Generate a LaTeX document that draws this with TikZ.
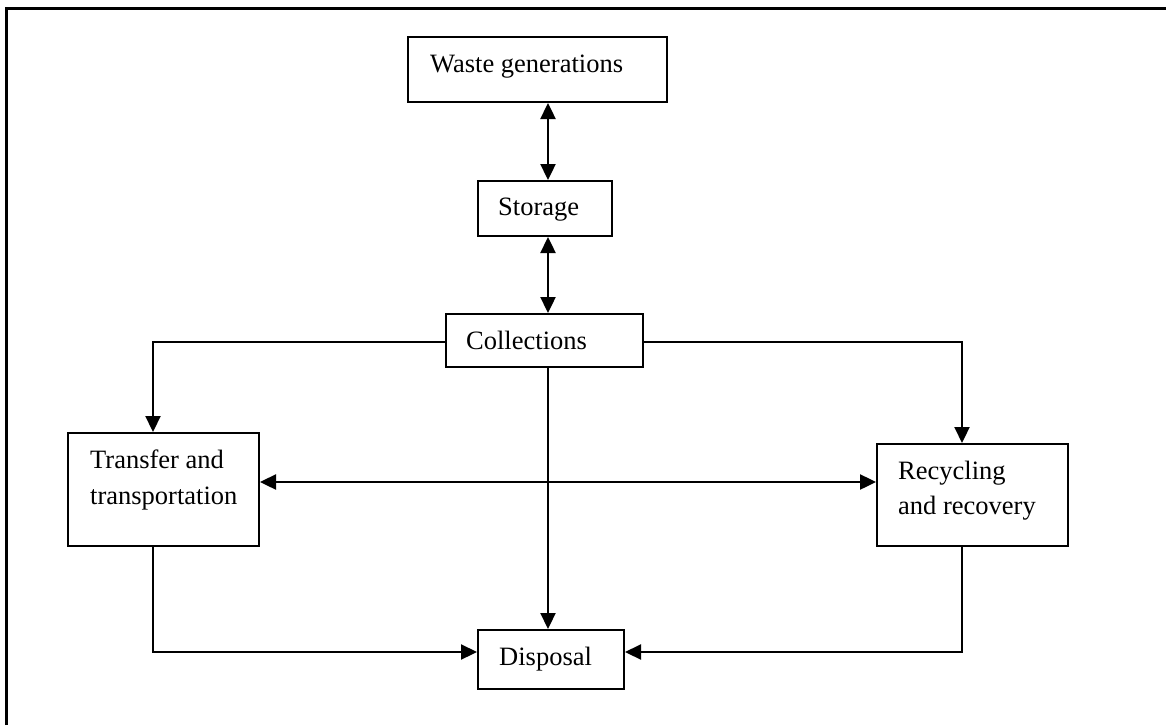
\documentclass[tikz,border=0pt]{standalone}
\usepackage{fontspec}
\setmainfont{Liberation Serif}
\usetikzlibrary{arrows.meta}
\tikzset{
  box/.style={draw, line width=2pt, inner sep=0pt},
  label text/.style={anchor=base west, inner sep=0pt, font=\fontsize{26.5}{30}\selectfont},
  tip/.style={Triangle[length=16pt,width=15pt]},
  one/.style={line width=2.2pt, -{Triangle[length=16pt,width=15pt]}},
  dbl/.style={line width=2.4pt, {Triangle[length=16pt,width=15pt]}-{Triangle[length=16pt,width=15pt]}},
  frame/.style={line width=3pt}
}
\begin{document}
\begin{tikzpicture}[x=1pt,y=-1pt]
\useasboundingbox (0,0) rectangle (1166,725);

% outer frame (top and left rules)
\draw[frame] (6.5,725) -- (6.5,9) -- (1166,9);

% boxes
\node[box, minimum width=259pt, minimum height=65pt] (wg) at (537.5,69.5) {};
\node[box, minimum width=134pt, minimum height=55pt] (st) at (545,208.5) {};
\node[box, minimum width=197pt, minimum height=53pt] (co) at (544.5,340.5) {};
\node[box, minimum width=191pt, minimum height=113pt] (tr) at (163.5,489.5) {};
\node[box, minimum width=191pt, minimum height=102pt] (rr) at (972.5,495) {};
\node[box, minimum width=146pt, minimum height=59pt] (dp) at (551,659.5) {};

% box texts
\node[label text] (wg-t) at (430,72) {Waste generations};
\node[label text] (st-t) at (498,215) {Storage};
\node[label text] (co-t) at (466,349) {Collections};
\node[label text] (tr-t1) at (90,468) {Transfer and};
\node[label text] (tr-t2) at (90,504) {transportation};
\node[label text] (rr-t1) at (898,479) {Recycling};
\node[label text] (rr-t2) at (898,514) {and recovery};
\node[label text] (dp-t) at (499,665) {Disposal};

% routing guides
\coordinate (cA) at (548,0);
\coordinate (tX) at (153,0);
\coordinate (rX) at (962,0);
\coordinate (hY) at (0,342);
\coordinate (mY) at (0,482);
\coordinate (dY) at (0,652);

% connectors
\draw[dbl] (wg.south -| cA) -- (st.north -| cA);
\draw[dbl] (st.south -| cA) -- (co.north -| cA);
\draw[one] (co.west |- hY) -| (tr.north -| tX);
\draw[one] (co.east |- hY) -| (rr.north -| rX);
\draw[one] (co.south -| cA) -- (dp.north -| cA);
\draw[dbl] (tr.east |- mY) -- (rr.west |- mY);
\draw[one] (tr.south -| tX) |- (dp.west |- dY);
\draw[one] (rr.south -| rX) |- (dp.east |- dY);
\end{tikzpicture}
\end{document}
